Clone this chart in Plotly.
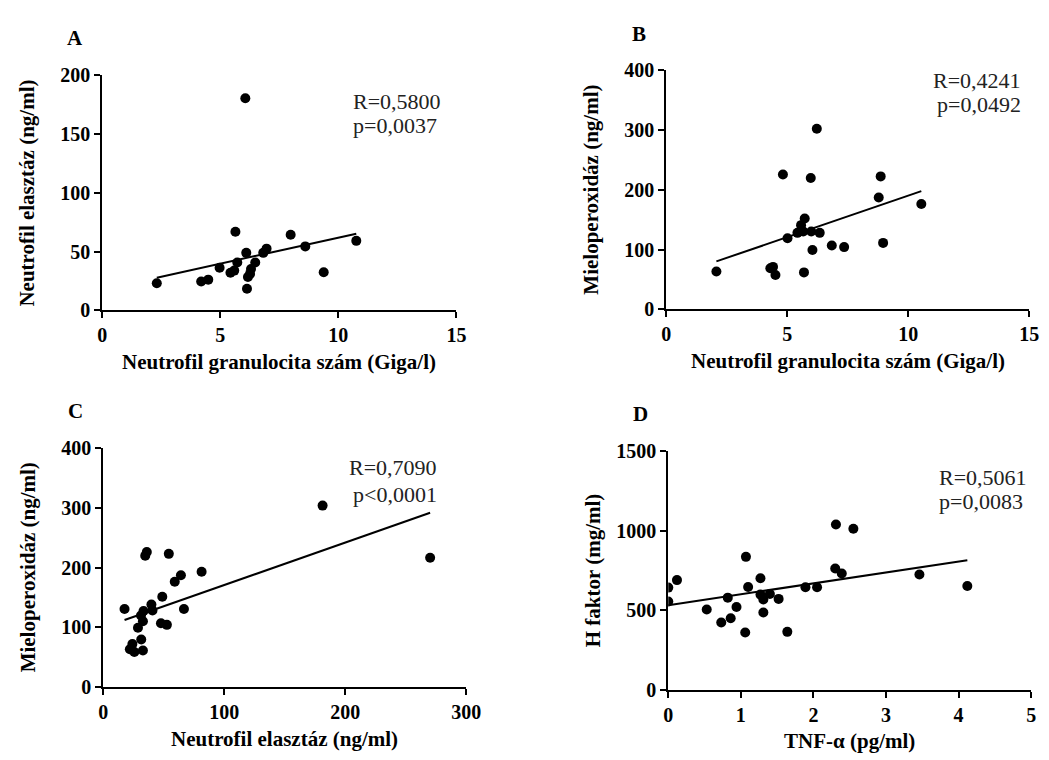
import numpy as np
import plotly.graph_objects as go

# ---------------- data ----------------
# Panel A: neutrophil count (Giga/l) vs neutrophil elastase (ng/ml)
a_x = [6.06, 5.64, 7.98, 10.76, 8.60, 6.96, 6.82, 6.10, 6.48, 5.72, 4.97, 5.59, 5.43, 6.30, 6.26, 6.17, 9.38, 4.49, 4.19, 2.31, 6.13]
a_y = [180.5, 66.8, 64.3, 59.1, 54.4, 52.5, 48.9, 48.9, 40.7, 40.7, 36.3, 33.8, 31.9, 35.2, 31.0, 28.3, 32.4, 26.1, 24.5, 23.1, 18.4]
# Panel B: neutrophil count (Giga/l) vs myeloperoxidase (ng/ml)
b_x = [6.22, 4.82, 5.97, 8.86, 8.78, 10.54, 5.72, 5.57, 5.42, 5.66, 5.99, 6.34, 5.01, 6.84, 7.35, 8.96, 6.04, 2.07, 4.30, 4.41, 4.51, 5.69]
b_y = [302.4, 225.8, 219.8, 222.6, 187.3, 176.4, 152.0, 141.0, 128.1, 130.3, 130.3, 128.1, 118.9, 106.9, 104.2, 111.3, 99.3, 63.5, 68.9, 71.1, 57.5, 61.9]
# Panel C: neutrophil elastase (ng/ml) vs myeloperoxidase (ng/ml)
c_x = [181.3, 270.2, 36.0, 34.7, 54.2, 81.3, 64.2, 59.1, 48.8, 17.6, 66.7, 39.8, 40.7, 33.3, 31.2, 32.8, 47.7, 52.6, 28.7, 31.4, 24.1, 22.0, 25.7, 32.8]
c_y = [303.9, 216.6, 226.3, 219.8, 223.1, 193.2, 187.2, 176.4, 151.4, 130.8, 130.8, 138.4, 128.1, 127.5, 120.0, 110.2, 106.9, 104.2, 99.3, 79.8, 72.2, 63.5, 58.6, 61.3]
# Panel D: TNF-alpha (pg/ml) vs factor H (mg/ml)
d_x = [2.31, 2.55, 1.07, 2.30, 2.39, 3.46, 0.12, 0.00, 1.27, 1.10, 1.89, 2.05, 4.12, 0.82, 1.27, 1.40, 1.31, 1.52, 0.00, 0.94, 0.53, 1.31, 0.86, 0.73, 1.06, 1.64]
d_y = [1039, 1013, 836, 763, 731, 725, 690, 643, 702, 647, 645, 645, 653, 580, 599, 603, 568, 572, 556, 521, 505, 487, 450, 424, 361, 365]

# regression lines (slope, intercept)
fit_slope = [4.44, 13.9, 0.711, 68.8]
fit_intercept = [17.44, 51.5, 99.8, 532.0]

r_text = ["R=0,5800", "R=0,4241", "R=0,7090", "R=0,5061"]
p_text = ["p=0,0037", "p=0,0492", "p<0,0001", "p=0,0083"]
panel_letters = ["A", "B", "C", "D"]
x_titles = ["Neutrofil granulocita szám (Giga/l)", "Neutrofil granulocita szám (Giga/l)",
            "Neutrofil elasztáz (ng/ml)", "TNF-α (pg/ml)"]
y_titles = ["Neutrofil elasztáz (ng/ml)", "Mieloperoxidáz (ng/ml)",
            "Mieloperoxidáz (ng/ml)", "H faktor (mg/ml)"]
x_ticks = [[0, 5, 10, 15], [0, 5, 10, 15], [0, 100, 200, 300], [0, 1, 2, 3, 4, 5]]
y_ticks = [[0, 50, 100, 150, 200], [0, 100, 200, 300, 400], [0, 100, 200, 300, 400],
           [0, 500, 1000, 1500]]

# ---------------- layout (pixels) ----------------
W, H = 1049, 760
# plot boxes: left, right, top, bottom (pixels)
boxes = [(91, 452, 58, 300), (666, 1036, 53, 299), (92, 462, 442, 688), (668, 1038, 445, 691)]

def px(x):
    return x / W

def py(y):
    return 1 - y / H

FONT = "Liberation Serif, Times New Roman, serif"

fig = go.Figure()
xs_all = [a_x, b_x, c_x, d_x]
ys_all = [a_y, b_y, c_y, d_y]

layout = dict(
    width=W, height=H, plot_bgcolor="white", paper_bgcolor="white",
    margin=dict(l=0, r=0, t=0, b=0), showlegend=False,
    font=dict(family=FONT, color="black"),
)

annotations = []
for i in range(4):
    ax = "" if i == 0 else str(i + 1)
    xs, ys = xs_all[i], ys_all[i]
    fig.add_trace(go.Scatter(x=xs, y=ys, mode="markers", xaxis="x" + ax, yaxis="y" + ax,
                             marker=dict(color="black", size=10), hoverinfo="skip"))
    xl = np.array([min(xs), max(xs)])
    fig.add_trace(go.Scatter(x=xl, y=fit_slope[i] * xl + fit_intercept[i], mode="lines",
                             xaxis="x" + ax, yaxis="y" + ax,
                             line=dict(color="black", width=2), hoverinfo="skip"))
    l, r, t, b = boxes[i]
    common = dict(showline=True, linecolor="black", linewidth=2, ticks="outside", ticklen=6,
                  tickwidth=2, tickcolor="black", showgrid=False, zeroline=False,
                  tickfont=dict(family=FONT, size=20, color="black"), tickmode="array")
    layout["xaxis" + ax] = dict(common, domain=[px(l), px(r)], anchor="y" + ax,
                                range=[x_ticks[i][0], x_ticks[i][-1]], tickvals=x_ticks[i],
                                ticktext=["<b>%g</b>" % v for v in x_ticks[i]])
    layout["yaxis" + ax] = dict(common, domain=[py(b), py(t)], anchor="x" + ax,
                                range=[y_ticks[i][0], y_ticks[i][-1]], tickvals=y_ticks[i],
                                ticktext=["<b>%g</b>" % v for v in y_ticks[i]])
    # panel letter
    annotations.append(dict(text="<b>%s</b>" % panel_letters[i], x=px(l - 28), y=py(t - 38),
                            xref="paper", yref="paper", showarrow=False,
                            font=dict(family=FONT, size=21), xanchor="center", yanchor="middle"))
    # axis titles
    annotations.append(dict(text="<b>%s</b>" % x_titles[i], x=px((l + r) / 2), y=py(b + 53),
                            xref="paper", yref="paper", showarrow=False,
                            font=dict(family=FONT, size=21), xanchor="center", yanchor="middle"))
    annotations.append(dict(text="<b>%s</b>" % y_titles[i], x=px(l - 77), y=py((t + b) / 2),
                            xref="paper", yref="paper", showarrow=False, textangle=-90,
                            font=dict(family=FONT, size=21), xanchor="center", yanchor="middle"))

# R / p annotations (pixel positions of text)
stat_pos = [(345, 85, 110, "left"), (1030, 63, 88, "right"), (434, 462, 490, "right"), (942, 472, 497, "left")]
for i, (sx, ry, pyy, al) in enumerate(stat_pos):
    for txt, yy in ((r_text[i], ry), (p_text[i], pyy)):
        annotations.append(dict(text=txt, x=px(sx), y=py(yy), xref="paper", yref="paper",
                                showarrow=False, font=dict(family=FONT, size=22, color="#222"),
                                xanchor=al, yanchor="middle"))

layout["annotations"] = annotations
fig.update_layout(**layout)
fig.write_html("out.html")
